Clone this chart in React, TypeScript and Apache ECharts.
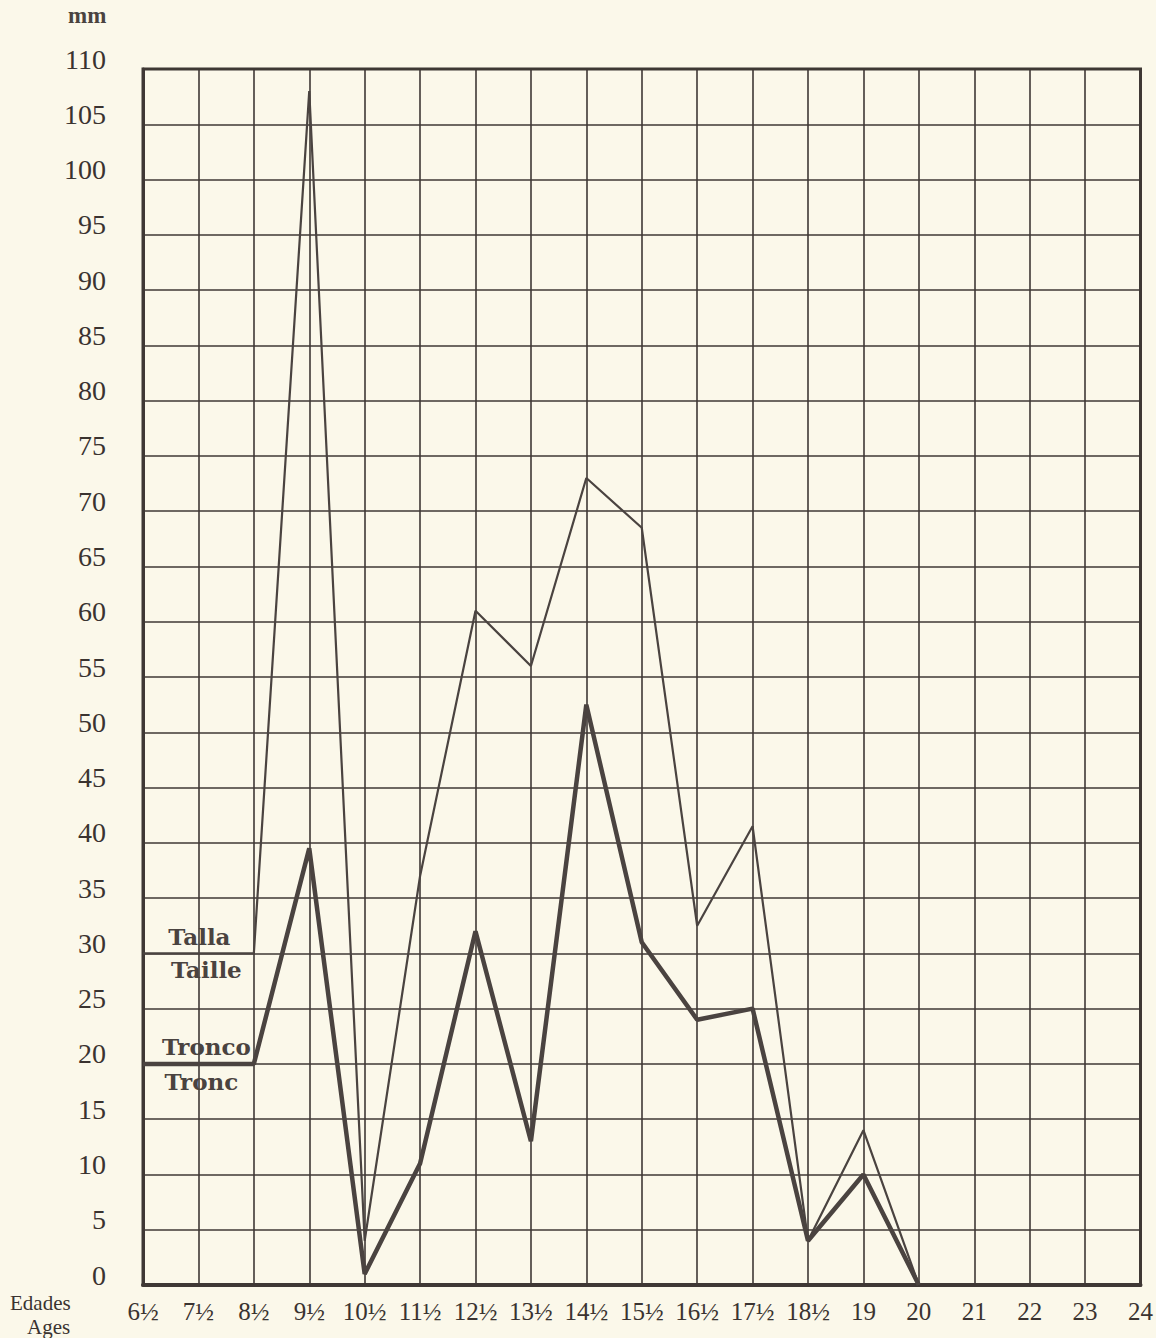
import React, { useEffect, useRef } from "react";
import * as echarts from "echarts";

const ages = ["6½", "7½", "8½", "9½", "10½", "11½", "12½", "13½", "14½", "15½", "16½", "17½", "18½", "19", "20", "21", "22", "23", "24"];
const talla = [30, 30, 30, 108, 4, 37, 61, 56, 73, 68.5, 32.5, 41.5, 4, 14, 0, null, null, null, null];
const tronco = [20, 20, 20, 39.5, 1, 11, 32, 13, 52.5, 31, 24, 25, 4, 10, 0, null, null, null, null];
const yMin = 0;
const yMax = 110;
const yStep = 5;

const INK = "#3f3835";
const BG = "#fbf8ea";
const SERIF = "'Liberation Serif', 'DejaVu Serif', serif";
const SLAB = "'DejaVu Serif', serif";

export default function App() {
  const ref = useRef<HTMLDivElement>(null);
  useEffect(() => {
    if (!ref.current) return;
    const chart = echarts.init(ref.current, null, { renderer: "svg" });
    const labelStyle = {
      fontFamily: SLAB,
      fontSize: 23,
      fontWeight: "bold",
      color: "#4a4340",
    };
    chart.setOption({
      animation: false,
      backgroundColor: BG,
      grid: {
        left: 143,
        right: 8,
        top: 69,
        bottom: 53,
        show: true,
        borderColor: INK,
        borderWidth: 3,
        backgroundColor: "transparent",
      },
      xAxis: {
        type: "category",
        data: ages,
        boundaryGap: false,
        axisLine: { show: true, lineStyle: { color: INK, width: 4 } },
        axisTick: { show: false },
        splitLine: { show: true, lineStyle: { color: INK, width: 1.6 } },
        axisLabel: {
          interval: 0,
          margin: 14,
          fontFamily: SERIF,
          fontSize: 25,
          color: "#3a3330",
        },
      },
      yAxis: {
        type: "value",
        min: yMin,
        max: yMax,
        interval: yStep,
        axisLine: { show: true, lineStyle: { color: INK, width: 3 } },
        axisTick: { show: false },
        splitLine: { show: true, lineStyle: { color: INK, width: 1.6 } },
        axisLabel: {
          margin: 37,
          fontFamily: SERIF,
          fontSize: 28,
          color: "#3a3330",
          verticalAlign: "bottom",
          lineHeight: 20,
        },
      },
      graphic: [
        {
          type: "text",
          left: 68,
          top: 4,
          style: { text: "mm", fontFamily: SERIF, fontSize: 23, fontWeight: "bold", fill: "#4a4340" },
        },
        {
          type: "text",
          left: 10,
          top: 1292,
          style: { text: "Edades", fontFamily: SERIF, fontSize: 21, fill: "#3a3330" },
        },
        {
          type: "text",
          left: 27,
          top: 1316,
          style: { text: "Ages", fontFamily: SERIF, fontSize: 21, fill: "#3a3330" },
        },
      ],
      series: [
        {
          name: "Talla",
          type: "line",
          data: talla,
          symbol: "none",
          lineStyle: { color: "#4a4340", width: 2.2 },
          markPoint: {
            symbol: "circle",
            symbolSize: 0,
            data: [
              { coord: ["7½", 30], label: { show: true, formatter: "Talla", position: "top", distance: 5, offset: [1, 0], ...labelStyle } },
              { coord: ["7½", 30], label: { show: true, formatter: "Taille", position: "bottom", distance: 5, offset: [8, 0], ...labelStyle } },
            ],
          },
        },
        {
          name: "Tronco",
          type: "line",
          data: tronco,
          symbol: "none",
          lineStyle: { color: "#4a4340", width: 4.5 },
          markPoint: {
            symbol: "circle",
            symbolSize: 0,
            data: [
              { coord: ["7½", 20], label: { show: true, formatter: "Tronco", position: "top", distance: 6, offset: [8, 0], ...labelStyle } },
              { coord: ["7½", 20], label: { show: true, formatter: "Tronc", position: "bottom", distance: 6, offset: [3, 0], ...labelStyle } },
            ],
          },
        },
      ],
    });
    return () => chart.dispose();
  }, []);
  return (
    <div
      ref={ref}
      style={{ position: "absolute", left: 0, top: 0, width: 1156, height: 1338, background: BG }}
    />
  );
}
